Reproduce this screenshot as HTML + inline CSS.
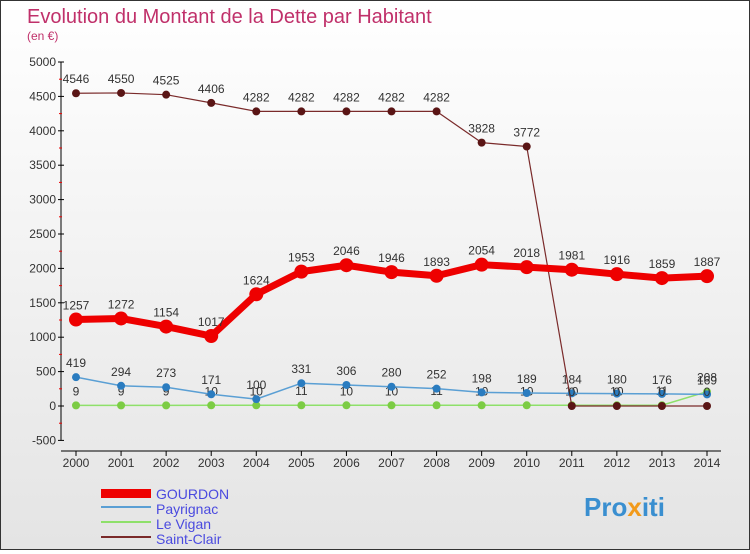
<!DOCTYPE html>
<html><head><meta charset="utf-8"><style>
body{margin:0;width:750px;height:550px;overflow:hidden;font-family:"Liberation Sans",sans-serif}
#wrap{position:relative;width:748px;height:548px;border:1px solid #333;background:linear-gradient(#fff,#e4e4e4)}
</style></head><body>
<div id="wrap">
<svg id="c" width="748" height="548">
<text x="26" y="22" font-size="20" fill="#c0306a">Evolution du Montant de la Dette par Habitant</text>
<text x="26" y="39" font-size="12" fill="#c0306a">(en €)</text>
<g id="axes"></g><g id="series"></g>
<g>
<rect x="100" y="488" width="50" height="9" fill="#e00"/>
<text x="155" y="498" font-size="14" fill="#4a4adf">GOURDON</text>
<rect x="100" y="505" width="50" height="2" fill="#5a9fd4"/>
<text x="155" y="513" font-size="14" fill="#4a4adf">Payrignac</text>
<rect x="100" y="520" width="50" height="2" fill="#8ee06a"/>
<text x="155" y="528" font-size="14" fill="#4a4adf">Le Vigan</text>
<rect x="100" y="535" width="50" height="2" fill="#7a2a2a"/>
<text x="155" y="543" font-size="14" fill="#4a4adf">Saint-Clair</text>
</g>
<text x="583" y="515" font-size="26" font-weight="bold" fill="#3a8fd0">Pro<tspan fill="#f29a1a">x</tspan>iti</text>
</svg></div>
<script>
const years=[2000,2001,2002,2003,2004,2005,2006,2007,2008,2009,2010,2011,2012,2013,2014];
const yTicks=[-500,0,500,1000,1500,2000,2500,3000,3500,4000,4500,5000];
const gourdon=[1257,1272,1154,1017,1624,1953,2046,1946,1893,2054,2018,1981,1916,1859,1887];
const payrignac=[419,294,273,171,100,331,306,280,252,198,189,184,180,176,169];
const leVigan=[9,9,9,10,10,11,10,10,11,10,10,10,10,11,208];
const saintClair=[4546,4550,4525,4406,4282,4282,4282,4282,4282,3828,3772,0,0,0,0];
const NS="http://www.w3.org/2000/svg";
const X=i=>75+i*(706-75)/(years.length-1);
const Y=v=>405-v*(405-61)/5000;
function mk(t,a,p){const e=document.createElementNS(NS,t);for(const k in a)e.setAttribute(k,a[k]);p.appendChild(e);return e;}
const ax=document.getElementById('axes'),sr=document.getElementById('series');
const yl=mk('line',{x1:60,y1:Y(5000),x2:60,y2:Y(-500),stroke:'#000'},ax);


const xl=mk('line',{x1:60,y1:450,x2:720,y2:450,stroke:'#000'},ax);


yTicks.forEach(v=>{
 mk('line',{x1:57,y1:Y(v),x2:63,y2:Y(v),stroke:'#000'},ax);
 if(v<5000) mk('line',{x1:58,y1:Y(v+250),x2:61,y2:Y(v+250),stroke:'#e00'},ax);
 const t=mk('text',{x:55,y:Y(v)+4,'font-size':12,'text-anchor':'end',fill:'#333'},ax);t.textContent=v;
 
 
});
years.forEach((y,i)=>{
 mk('line',{x1:X(i),y1:450,x2:X(i),y2:455,stroke:'#000'},ax);
 const t=mk('text',{x:X(i),y:466,'font-size':12,'text-anchor':'middle',fill:'#333'},ax);t.textContent=y;
 
 
});
function series(d,name,col,lw,r,dot){
 const g=mk('g',{},sr);
 
 
 mk('polyline',{points:d.map((v,i)=>X(i)+','+Y(v)).join(' '),fill:'none',stroke:col,'stroke-width':lw,'stroke-linejoin':'round'},g);
 d.forEach((v,i)=>{
  const c=mk('circle',{cx:X(i),cy:Y(v),r:r,fill:dot},g);
  
  
  const t=mk('text',{x:X(i),y:Y(v)-10,'font-size':12,'text-anchor':'middle',fill:'#333'},g);t.textContent=v;
  
  
 });
}
series(leVigan,'le-vigan','#8ee06a',1.5,4,'#7ccc44');
series(payrignac,'payrignac','#5a9fd4',1.5,4,'#2a7cc0');
series(saintClair,'saint-clair','#7a2a2a',1.2,4,'#5a1515');
series(gourdon,'gourdon','#e00',7,7,'#e00');
</script>
</body></html>
